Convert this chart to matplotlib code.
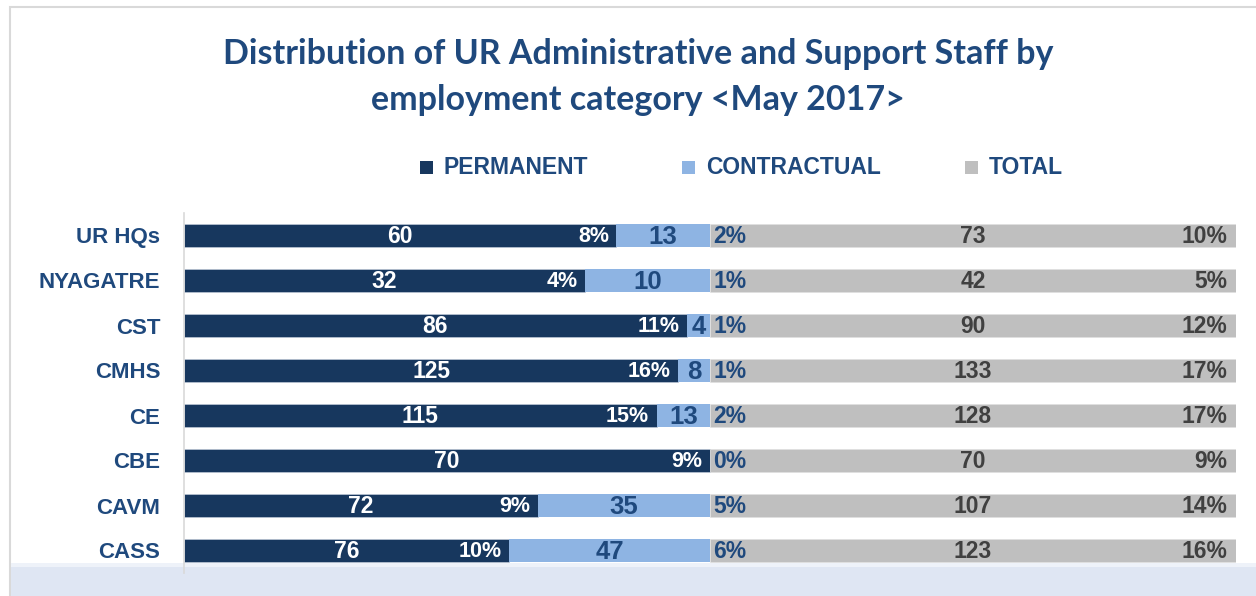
import numpy as np
import matplotlib
matplotlib.use("Agg")
import matplotlib.pyplot as plt
from matplotlib.patches import Rectangle

# chart data
categories = ["UR HQs", "NYAGATRE", "CST", "CMHS", "CE", "CBE", "CAVM", "CASS"]
permanent = [60, 32, 86, 125, 115, 70, 72, 76]
contractual = [13, 10, 4, 8, 13, 0, 35, 47]
total = [73, 42, 90, 133, 128, 70, 107, 123]
perm_pct = ["8%", "4%", "11%", "16%", "15%", "9%", "9%", "10%"]
contr_pct = ["2%", "1%", "1%", "1%", "2%", "0%", "5%", "6%"]
total_pct = ["10%", "5%", "12%", "17%", "17%", "9%", "14%", "16%"]

c_perm = "#17375E"
c_contr = "#8EB4E3"
c_total = "#BFBFBF"
c_text = "#1F497D"

plt.rcParams['font.family'] = ['Liberation Sans', 'DejaVu Sans']

fig = plt.figure(figsize=(12.56, 5.96), dpi=100)

# chart frame + bottom band
fig.patches.append(Rectangle((10/1256, -0.01), 1.0, 1 - 7/596 + 0.01, transform=fig.transFigure,
                             facecolor="white", edgecolor="#D9D9D9", lw=1.5, zorder=-2))
fig.patches.append(Rectangle((11/1256, 0), 1.0, 29/596, transform=fig.transFigure,
                             facecolor="#DFE6F3", edgecolor="none", zorder=-1))
fig.patches.append(Rectangle((11/1256, 29/596), 1.0, 4/596, transform=fig.transFigure,
                             facecolor="#EEF2F9", edgecolor="none", zorder=-1))

ax = fig.add_axes([184/1256, 1 - 573/596, 1052/1256, 360/596])
ax.set_zorder(1)
ax.patch.set_alpha(0)

y = np.arange(len(categories))
perm = np.array(permanent, dtype=float)
contr = np.array(contractual, dtype=float)
tot = np.array(total, dtype=float)
whole = perm + contr + tot

p_w = perm / whole
c_w = contr / whole
t_w = tot / whole

h = 0.5
ax.barh(y, p_w, height=h, color=c_perm, edgecolor="#C9D3E0", lw=0.4)
ax.barh(y, c_w, left=p_w, height=h, color=c_contr, edgecolor="none")
ax.barh(y, t_w, left=p_w + c_w, height=h, color=c_total, edgecolor="#E0E0E0", lw=0.4)

fs = 16.5
for i in range(len(categories)):
    ax.text(p_w[i] / 2, y[i] + 0.03, str(permanent[i]), ha="center", va="center",
            color="white", fontsize=fs, fontweight="bold")
    ax.text(p_w[i] - 0.007, y[i] + 0.03, perm_pct[i], ha="right", va="center",
            color="white", fontsize=15.5, fontweight="bold")
    if contractual[i] > 0:
        ax.text(p_w[i] + c_w[i] / 2, y[i] + 0.04, str(contractual[i]), ha="center", va="center",
                color=c_text, fontsize=18.5, fontweight="bold")
    ax.text(p_w[i] + c_w[i] + 0.003, y[i] + 0.03, contr_pct[i], ha="left", va="center",
            color=c_text, fontsize=fs, fontweight="bold")
    ax.text(p_w[i] + c_w[i] + t_w[i] / 2, y[i] + 0.03, str(total[i]), ha="center", va="center",
            color="#404040", fontsize=fs, fontweight="bold")
    ax.text(0.992, y[i] + 0.03, total_pct[i], ha="right", va="center",
            color="#404040", fontsize=fs, fontweight="bold")

ax.set_xlim(0, 1)
ax.set_ylim(len(categories) - 0.5, -0.5)
ax.set_yticks(y)
ax.set_yticklabels(categories, fontsize=16, fontweight="bold", color=c_text)
ax.tick_params(axis="y", length=0, pad=17)
ax.set_xticks([])
for s in ["top", "right", "bottom"]:
    ax.spines[s].set_visible(False)
ax.spines["left"].set_color("#D9D9D9")
ax.spines["left"].set_linewidth(1.2)

# title
fig.text(0.508, 1 - 54/596, "Distribution of UR Administrative and Support Staff by",
         ha="center", va="center", fontsize=24.5, fontweight="bold", color=c_text, family="Lato")
fig.text(0.508, 1 - 100/596, "employment category <May 2017>",
         ha="center", va="center", fontsize=24.5, fontweight="bold", color=c_text, family="Lato")

# legend
leg_items = [("PERMANENT", c_perm, 420), ("CONTRACTUAL", c_contr, 682), ("TOTAL", c_total, 965)]
for label, col, x0 in leg_items:
    fig.patches.append(Rectangle((x0/1256, 1 - 174/596), 13/1256, 13/596,
                                 transform=fig.transFigure, facecolor=col, edgecolor="none"))
    fig.text((x0 + 24)/1256, 1 - 167/596, label, ha="left", va="center",
             fontsize=16.5, fontweight="bold", color=c_text)

fig.savefig("out.png", dpi=100)
